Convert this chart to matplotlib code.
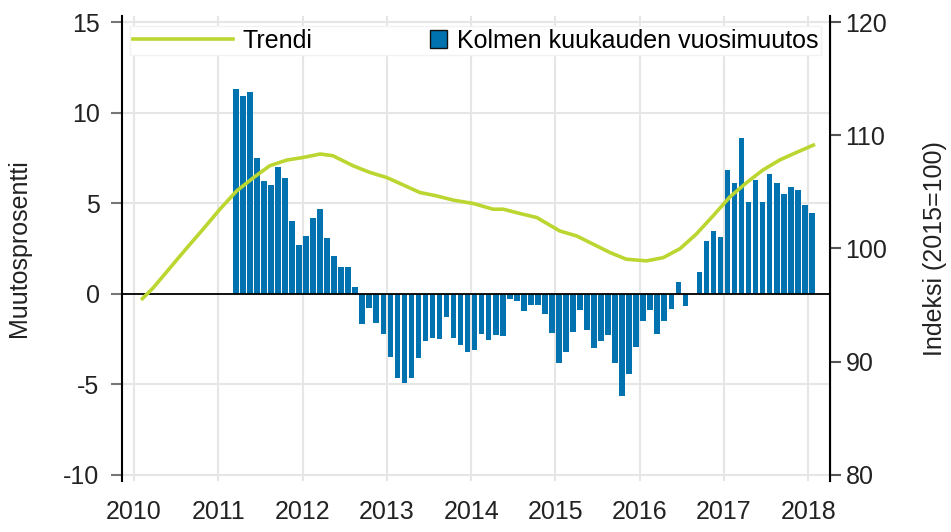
import numpy as np
import pandas as pd
import matplotlib
matplotlib.use('Agg')
import matplotlib.pyplot as plt
from matplotlib.patches import Rectangle
from matplotlib.lines import Line2D
from matplotlib.legend_handler import HandlerPatch

plt.rcParams['font.family'] = ['Liberation Sans', 'DejaVu Sans']
plt.rcParams['axes.unicode_minus'] = False

# Kolmen kuukauden vuosimuutos (%), monthly Mar 2011 - Jan 2018
bar_start = '2011-03'
change = [
    11.31, 10.93, 11.12, 7.48, 6.22, 6.00, 7.01, 6.38, 4.00, 2.70,
    3.18, 4.19, 4.70, 3.08, 2.08, 1.48, 1.48, 0.38, -1.70, -0.81, -1.60, -2.21,
    -3.50, -4.65, -4.93, -4.65, -3.54, -2.62, -2.47, -2.53, -1.29, -2.43, -2.84, -3.21,
    -3.13, -2.21, -2.54, -2.30, -2.32, -0.28, -0.41, -0.93, -0.60, -0.60, -1.15, -2.18,
    -3.83, -3.25, -2.10, -0.92, -2.03, -3.03, -2.60, -2.30, -3.82, -5.66, -4.43, -2.95,
    -1.51, -0.92, -2.25, -1.51, -0.83, 0.66, -0.70, 0.00, 1.20, 2.92, 3.47, 3.15,
    6.83, 6.09, 8.60, 5.07, 6.29, 5.07, 6.61, 6.11, 5.50, 5.92, 5.72, 4.91,
    4.48,
]

# Trendi (indeksi 2015=100)
trend_t = [2010.10, 2010.23, 2010.43, 2010.63, 2010.82, 2011.02, 2011.22, 2011.42,
           2011.61, 2011.81, 2012.01, 2012.21, 2012.36, 2012.60, 2012.80, 2013.00,
           2013.19, 2013.39, 2013.59, 2013.79, 2014.03, 2014.26, 2014.38, 2014.58,
           2014.78, 2015.05, 2015.25, 2015.45, 2015.65, 2015.84, 2016.08, 2016.28,
           2016.48, 2016.67, 2016.87, 2017.07, 2017.27, 2017.46, 2017.66, 2017.86,
           2018.06]
trend = [95.56, 96.53, 98.30, 100.07, 101.70, 103.47, 105.10, 106.27,
         107.31, 107.81, 108.05, 108.35, 108.20, 107.31, 106.72, 106.27,
         105.63, 104.95, 104.65, 104.27, 103.97, 103.47, 103.47, 103.09,
         102.73, 101.55, 101.11, 100.37, 99.63, 99.05, 98.90, 99.19,
         99.99, 101.26, 102.88, 104.56, 105.83, 106.93, 107.82, 108.49,
         109.14]

years = list(range(2010, 2019))
left_ticks = [-10, -5, 0, 5, 10, 15]
right_ticks = [80, 90, 100, 110, 120]

bar_color = '#0072b0'
trend_color = '#bcd631'
fs = 18

dates = pd.date_range(bar_start, periods=len(change), freq='MS')
x = dates.year + (dates.month - 0.5) / 12

fig = plt.figure(figsize=(9.51, 5.32), dpi=100)
ax = fig.add_axes([0.128, 0.096, 0.745, 0.874])
ax2 = ax.twinx()

ax.bar(x, change, width=0.8 / 12, color=bar_color, zorder=2)
ax.axhline(0, color='black', lw=1.3, zorder=3)

ax.set_xlim(2009.855, 2018.26)
ax.set_ylim(-10.35, 15.35)
ax2.set_ylim(96 + 1.6 * -10.35, 96 + 1.6 * 15.35)

ax2.plot(trend_t, trend, color=trend_color, lw=2.6, zorder=4)

ax.set_xticks(years)
ax.set_yticks(left_ticks)
ax2.set_yticks(right_ticks)
ax.grid(True, color='#e6e6e6', lw=1.5, zorder=0)
ax.set_axisbelow(True)

for a in (ax, ax2):
    a.spines['top'].set_visible(False)
    a.spines['bottom'].set_visible(False)
ax.spines['left'].set_linewidth(1.5)
ax2.spines['right'].set_linewidth(1.5)
ax2.spines['left'].set_visible(False)

ax.tick_params(axis='x', length=0, pad=14, labelsize=fs, labelcolor='#222222')
ax.tick_params(axis='y', length=8, width=1.5, color='#777777', pad=8,
               labelsize=fs, labelcolor='#222222')
ax2.tick_params(axis='y', length=8, width=1.5, color='#555555', pad=3,
                labelsize=fs, labelcolor='#222222')

ax.set_ylabel('Muutosprosentti', fontsize=fs, color='#222222')
ax.yaxis.set_label_coords(-0.128, 0.5)
ax2.set_ylabel('Indeksi (2015=100)', fontsize=fs, color='#222222', rotation=90)
ax2.yaxis.set_label_coords(1.131, 0.5)


def square(legend, orig_handle, xdescent, ydescent, width, height, fontsize):
    s = height * 1.0
    return Rectangle((-xdescent + width - s, -ydescent + (height - s) / 2), s, s)


h_line = Line2D([], [], color=trend_color, lw=2.6)
h_bar = Rectangle((0, 0), 1, 1, facecolor=bar_color, edgecolor='#111111', lw=1)
leg = ax2.legend([h_line, h_bar], ['Trendi', 'Kolmen kuukauden vuosimuutos'],
                 loc='lower left', bbox_to_anchor=(0.012, 0.915, 0.975, 0.06),
                 mode='expand', ncol=2, fontsize=fs, handlelength=4.0,
                 handletextpad=0.4, borderpad=0.1, borderaxespad=0,
                 frameon=True, fancybox=False,
                 handler_map={Rectangle: HandlerPatch(patch_func=square)})
leg.get_frame().set_edgecolor('#f2f2f2')
leg.get_frame().set_facecolor('white')
leg.get_frame().set_alpha(1)

fig.savefig('out.png', dpi=100)
